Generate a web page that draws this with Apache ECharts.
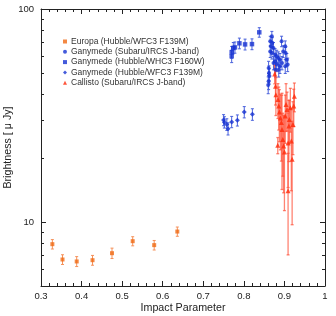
<!DOCTYPE html>
<html><head><meta charset="utf-8">
<script src="https://cdn.jsdelivr.net/npm/echarts@6/dist/echarts.min.js"></script>
<style>html,body{margin:0;padding:0;background:#fff}#c{width:336px;height:316px}</style>
</head><body><div id="c"></div>
<script>
// ---- axis settings ----
const xMin = 0.3, xMax = 1.0, xStep = 0.1;
const yMin = 5, yMax = 100;
const yTickLabels = [10, 100];
const yMinorTicks = [6, 7, 8, 9, 20, 30, 40, 50, 60, 70, 80, 90];

// ---- Europa (Hubble/WFC3 F139M) ----
const europaX   = [0.328, 0.353, 0.388, 0.427, 0.475, 0.526, 0.579, 0.636];
const europaY   = [7.86, 6.66, 6.52, 6.61, 7.13, 8.12, 7.78, 9.01];
const europaErr = [0.40, 0.35, 0.35, 0.35, 0.40, 0.40, 0.40, 0.45];

// ---- Ganymede (Subaru/IRCS J-band) ----
const ganSubX = [0.869, 0.865, 0.870, 0.867, 0.873, 0.865, 0.869, 0.877, 0.881, 0.885, 0.889, 0.877, 0.881, 0.889,
                 0.893, 0.897, 0.902, 0.903, 0.906, 0.908, 0.902, 0.861, 0.862, 0.863, 0.861, 0.873, 0.878, 0.886, 0.860, 0.894];
const ganSubY = [74.5, 70.5, 69.3, 66.8, 65.6, 63.2, 62.2, 61.1, 60.0, 58.9, 57.8, 56.8, 54.8, 53.8,
                 70.5, 63.2, 66.8, 62.2, 57.8, 54.8, 53.8, 52.8, 50.1, 48.4, 45.8, 55.8, 51.9, 51.9, 44.0, 55.8];
const ganSubErr = [4, 4, 4, 4, 4, 4, 4, 4, 4, 4, 4, 4, 4, 4,
                   4, 4, 4, 4, 4, 4, 4, 4, 4, 4, 4, 4, 4, 4, 4, 4];

// ---- Ganymede (Hubble/WHC3 F160W) ----
const ganF160X = [0.770, 0.770, 0.774, 0.778, 0.789, 0.803, 0.820, 0.838];
const ganF160Y = [62.7, 60.0, 65.6, 66.0, 69.0, 68.2, 68.4, 77.7];
const ganF160Err = [4, 4, 4, 4, 4, 4, 4, 4];

// ---- Ganymede (Hubble/WFC3 F139M) ----
const ganF139X = [0.750, 0.752, 0.758, 0.761, 0.770, 0.784, 0.801, 0.821];
const ganF139Y = [30.1, 29.4, 28.7, 27.4, 29.5, 30.0, 32.8, 32.0];
const ganF139Err = [1.8, 1.8, 1.8, 1.8, 1.8, 1.8, 2.0, 2.0];

// ---- Callisto (Subaru/IRCS J-band) ----
const calX = [0.876, 0.878, 0.879, 0.884, 0.886, 0.8875, 0.890, 0.8925, 0.894, 0.896, 0.898, 0.900, 0.902,
              0.904, 0.9065, 0.909, 0.911, 0.912, 0.9146, 0.917, 0.919, 0.921, 0.923, 0.9245, 0.8836, 0.909];
const calY = [49.5, 43.4, 39.6, 37.6, 35.0, 32.8, 30.8, 29.3, 27.2, 24.4, 22.7, 21.3, 31.4,
              35.6, 33.7, 23.5, 28.2, 30.3, 34.4, 24.0, 19.7, 28.7, 35.0, 38.9, 22.9, 14.0];
const calErr = [5, 8, 8, 7, 8, 9, 9, 10, 13, 8, 9, 10, 8,
                9, 7, 9, 9, 7, 8, 10, 10, 8, 7, 6, 2, 7];

const FONT = 'Liberation Sans';
const cOrange = '#f06a14', cBlue = '#1632d2', cRed = '#ff2a0a';

function pts(xs, ys, es) { return xs.map((x, i) => es ? [x, ys[i], es[i]] : [x, ys[i]]); }

function errRender(color, w, cap) {
  return function (params, api) {
    const x = api.value(0), y = api.value(1), e = api.value(2);
    const top = api.coord([x, y + e]);
    const bot = api.coord([x, Math.max(y - e, yMin * 1.001)]);
    const st = { stroke: color, lineWidth: w };
    return { type: 'group', children: [
      { type: 'line', shape: { x1: top[0], y1: top[1], x2: bot[0], y2: bot[1] }, style: st },
      { type: 'line', shape: { x1: top[0] - cap, y1: top[1], x2: top[0] + cap, y2: top[1] }, style: st },
      { type: 'line', shape: { x1: bot[0] - cap, y1: bot[1], x2: bot[0] + cap, y2: bot[1] }, style: st }
    ]};
  };
}
function errSeries(name, data, color, w, cap) {
  return { name: name, type: 'custom', renderItem: errRender(color, w, cap), data: data,
           encode: { x: 0, y: 1 }, silent: true, clip: true, z: 2 };
}
function minorTickRender(params, api) {
  const v = api.value(1);
  const p = api.coord([xMin, v]), q = api.coord([xMax, v]);
  const st = { stroke: '#222', lineWidth: 1 };
  const y = Math.round(p[1]) + 0.5;
  return { type: 'group', children: [
    { type: 'line', shape: { x1: p[0], y1: y, x2: p[0] + 3, y2: y }, style: st },
    { type: 'line', shape: { x1: q[0] - 3, y1: y, x2: q[0], y2: y }, style: st }
  ]};
}

const chart = echarts.init(document.getElementById('c'), null, { renderer: 'canvas' });
const axisLineStyle = { lineStyle: { color: '#222', width: 1 } };
chart.setOption({
  animation: false,
  textStyle: { fontFamily: FONT },
  grid: { left: 41, right: 11, top: 9, bottom: 30, containLabel: false, outerBoundsMode: 'none' },
  legend: {
    orient: 'vertical', left: 63, top: 37, padding: 0,
    itemWidth: 4, itemHeight: 4, itemGap: 1.3,
    textStyle: { fontFamily: FONT, fontSize: 8.5, color: '#333', lineHeight: 9, padding: [0, 0, 0, -1] },
    data: ['Europa (Hubble/WFC3 F139M)', 'Ganymede (Subaru/IRCS J-band)', 'Ganymede (Hubble/WHC3 F160W)',
           'Ganymede (Hubble/WFC3 F139M)', 'Callisto (Subaru/IRCS J-band)']
  },
  xAxis: [{
    type: 'value', min: xMin, max: xMax, interval: xStep,
    name: 'Impact Parameter', nameLocation: 'middle', nameGap: 17, nameMoveOverlap: false,
    nameTextStyle: { fontFamily: FONT, fontSize: 10.7, color: '#222' },
    axisLine: axisLineStyle,
    axisTick: { inside: true, length: 5, lineStyle: { color: '#222' } },
    minorTick: { show: true, splitNumber: 5, length: 3, lineStyle: { color: '#222' } },
    axisLabel: { fontFamily: FONT, fontSize: 9.5, color: '#222', margin: 5 },
    splitLine: { show: false }
  }, {
    type: 'value', position: 'top', min: xMin, max: xMax, interval: xStep,
    axisLine: axisLineStyle,
    axisTick: { inside: true, length: 5, lineStyle: { color: '#222' } },
    minorTick: { show: true, splitNumber: 5, length: 3, lineStyle: { color: '#222' } },
    axisLabel: { show: false }, splitLine: { show: false }
  }],
  yAxis: [{
    type: 'log', logBase: 10, min: yMin, max: yMax,
    name: 'Brightness [ μ Jy]', nameLocation: 'middle', nameGap: 27, nameMoveOverlap: false,
    nameTextStyle: { fontFamily: FONT, fontSize: 10.7, color: '#222' },
    axisLine: axisLineStyle,
    axisTick: { inside: true, length: 5, lineStyle: { color: '#222' } },
    axisLabel: { fontFamily: FONT, fontSize: 9.5, color: '#222', margin: 7,
      formatter: function (v) {
        for (const t of yTickLabels) { if (Math.abs(v - t) < 1e-6 * t) return String(t); }
        return '';
      } },
    splitLine: { show: false }
  }, {
    type: 'log', logBase: 10, min: yMin, max: yMax, position: 'right',
    axisLine: axisLineStyle,
    axisTick: { inside: true, length: 5, lineStyle: { color: '#222' } },
    axisLabel: { show: false }, splitLine: { show: false }
  }],
  series: [
    { name: 'minorY', type: 'custom', renderItem: minorTickRender, silent: true, clip: false,
      data: yMinorTicks.map(v => [xMin, v]), encode: { x: 0, y: 1 }, z: 1 },
    errSeries('eEur', pts(europaX, europaY, europaErr), '#f5915a', 1, 1.5),
    errSeries('eGanSub', pts(ganSubX, ganSubY, ganSubErr), '#4a62dc', 1, 1.5),
    errSeries('eGanF160', pts(ganF160X, ganF160Y, ganF160Err), '#4a62dc', 1, 1.5),
    errSeries('eGanF139', pts(ganF139X, ganF139Y, ganF139Err), '#4a62dc', 1, 1.5),
    { name: 'Europa (Hubble/WFC3 F139M)', type: 'scatter', symbol: 'rect', symbolSize: 4,
      itemStyle: { color: cOrange }, data: pts(europaX, europaY), z: 3 },
    { name: 'Ganymede (Subaru/IRCS J-band)', type: 'scatter', symbol: 'circle', symbolSize: 4,
      itemStyle: { color: cBlue }, data: pts(ganSubX, ganSubY), z: 3 },
    { name: 'Ganymede (Hubble/WHC3 F160W)', type: 'scatter', symbol: 'rect', symbolSize: 4.5,
      itemStyle: { color: cBlue }, data: pts(ganF160X, ganF160Y), z: 3 },
    { name: 'Ganymede (Hubble/WFC3 F139M)', type: 'scatter', symbol: 'diamond', symbolSize: 5,
      itemStyle: { color: cBlue }, data: pts(ganF139X, ganF139Y), z: 3 },
    errSeries('eCal', pts(calX, calY, calErr), 'rgba(255,80,55,0.7)', 1.3, 1.5),
    { name: 'Callisto (Subaru/IRCS J-band)', type: 'scatter', symbol: 'triangle', symbolSize: 5,
      itemStyle: { color: cRed }, data: pts(calX, calY), z: 4 }
  ].map(s => Object.assign({ xAxisIndex: 0, yAxisIndex: 0 }, s))
});
</script>
</body></html>
